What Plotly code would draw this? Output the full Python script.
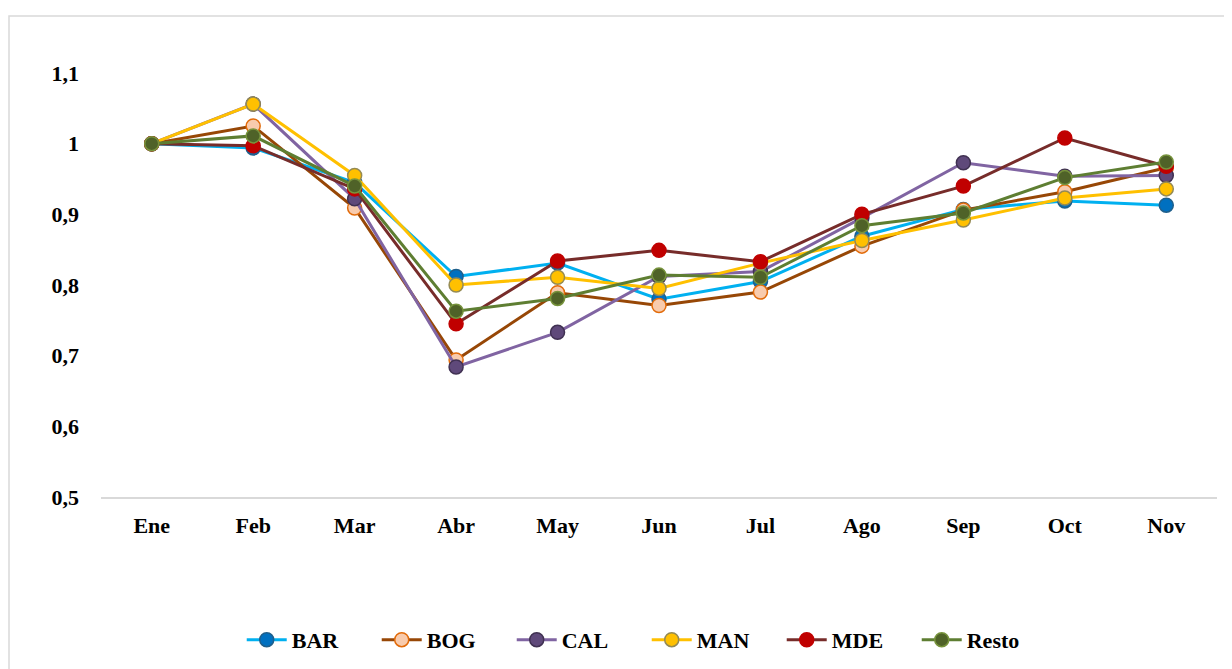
import plotly.graph_objects as go

months = ["Ene", "Feb", "Mar", "Abr", "May", "Jun", "Jul", "Ago", "Sep", "Oct", "Nov"]

BAR = [1.0, 0.994, 0.945, 0.812, 0.831, 0.780, 0.805, 0.869, 0.907, 0.919, 0.913]
BOG = [1.0, 1.025, 0.909, 0.694, 0.789, 0.771, 0.790, 0.855, 0.906, 0.932, 0.966]
CAL = [1.0, 1.056, 0.922, 0.684, 0.733, 0.812, 0.819, 0.895, 0.973, 0.954, 0.955]
MAN = [1.0, 1.056, 0.955, 0.800, 0.811, 0.795, 0.831, 0.863, 0.892, 0.923, 0.936]
MDE = [1.0, 0.997, 0.936, 0.745, 0.834, 0.849, 0.833, 0.900, 0.940, 1.008, 0.968]
Resto = [1.0, 1.011, 0.940, 0.763, 0.781, 0.814, 0.811, 0.884, 0.902, 0.952, 0.974]

series = [
    ("BAR", BAR, "#00B0F0", "#0070C0", "#1F5F8B"),
    ("BOG", BOG, "#974706", "#F8CBAD", "#E26B0A"),
    ("CAL", CAL, "#8064A2", "#5F497A", "#403152"),
    ("MAN", MAN, "#FFC000", "#FFC000", "#948A54"),
    ("MDE", MDE, "#772C2A", "#C00000", "#C00000"),
    ("Resto", Resto, "#5E7E32", "#4F6228", "#77933C"),
]

FONT = "Liberation Serif"
FS = 22

fig = go.Figure()
for name, vals, lc, mfill, mline in series:
    fig.add_trace(go.Scatter(
        x=months, y=vals, name=name, mode="lines+markers",
        line=dict(color=lc, width=3),
        marker=dict(size=14, color=mfill, line=dict(color=mline, width=1.5)),
    ))

fig.update_layout(
    width=1224, height=661,
    margin=dict(l=93, r=15, t=65, b=172, autoexpand=False),
    paper_bgcolor="white", plot_bgcolor="white",
    font=dict(family=FONT, size=FS, color="black"),
    separators=", ",
    showlegend=True,
    legend=dict(
        orientation="h", x=0.489, xanchor="center", y=-0.337, yanchor="middle",
        font=dict(family=FONT, size=FS, color="black", weight="bold"),
        itemwidth=40, traceorder="normal",
        entrywidth=80, entrywidthmode="pixels",
    ),
    shapes=[dict(type="rect", xref="paper", yref="paper",
                 x0=(9 - 101) / 1116, x1=(1240 - 101) / 1116,
                 y0=(497 - 680) / 424, y1=(497 - 16) / 424,
                 line=dict(color="#D9D9D9", width=1.5), layer="below")],
)

fig.update_xaxes(
    type="category", range=[-0.5, 10.5],
    showgrid=False, showline=True, linecolor="#D9D9D9", linewidth=1.5,
    ticks="", tickfont=dict(family=FONT, size=FS, color="black", weight="bold"),
    ticklabelstandoff=8, zeroline=False,
)
fig.update_yaxes(
    range=[0.5, 1.1], dtick=0.1, tick0=0.5,
    showgrid=False, showline=False, zeroline=False,
    tickfont=dict(family=FONT, size=FS, color="black", weight="bold"),
    tickformat=".1~f", ticklabelstandoff=21,
)

fig.write_html("out.html")
